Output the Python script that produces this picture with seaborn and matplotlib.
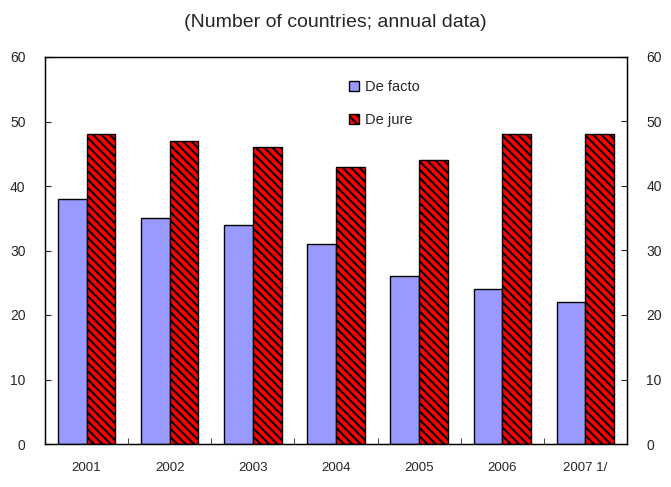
import pandas as pd
import matplotlib.pyplot as plt
import seaborn as sns
from matplotlib.patches import Patch

sns.set_style('white')
plt.rcParams['font.family'] = ['Liberation Sans', 'DejaVu Sans']
plt.rcParams['hatch.linewidth'] = 1.5

# Data
years = ['2001', '2002', '2003', '2004', '2005', '2006', '2007 1/']
de_facto = [38, 35, 34, 31, 26, 24, 22]
de_jure = [48, 47, 46, 43, 44, 48, 48]

df = pd.DataFrame({
    'year': years * 2,
    'count': de_facto + de_jure,
    'kind': ['De facto'] * len(years) + ['De jure'] * len(years),
})

fig = plt.figure(figsize=(6.71, 4.87), dpi=100)
ax = fig.add_axes([45 / 671, 1 - 444 / 487, 582 / 671, 387 / 487])

sns.barplot(data=df, x='year', y='count', hue='kind',
            palette={'De facto': '#9999ff', 'De jure': '#ff0000'},
            saturation=1, width=0.69, edgecolor='black', linewidth=1.0,
            ax=ax, legend=False)

# hatch the de jure bars
n = len(years)
for i, p in enumerate(ax.patches[:2 * n]):
    if i >= n:
        p.set_hatch('\\\\\\\\')

ax.set_xlim(-0.5, n - 0.5)
ax.set_ylim(0, 60)
ax.set_yticks(range(0, 61, 10))
ax.set_xlabel('')
ax.set_ylabel('')
for s in ax.spines.values():
    s.set_color('black')
    s.set_linewidth(1.0)

ax.tick_params(axis='y', direction='in', length=4, labelsize=10, pad=14)
ax.tick_params(axis='x', which='major', length=0, labelsize=9.5, pad=13)
ax.set_xticks([i + 0.5 for i in range(n - 1)], minor=True)
ax.tick_params(axis='x', which='minor', direction='in', length=4, bottom=True)

ax2 = ax.twinx()
ax2.set_ylim(0, 60)
ax2.set_yticks(range(0, 61, 10))
ax2.tick_params(axis='y', direction='in', length=4, labelsize=10, pad=14)
for s in ax2.spines.values():
    s.set_color('black')

handles = [
    Patch(facecolor='#9999ff', edgecolor='black', label='De facto'),
    Patch(facecolor='#ff0000', edgecolor='black', hatch='\\\\\\\\', label='De jure'),
]
ax.legend(handles=handles, loc='upper left', bbox_to_anchor=(0.5, 0.975),
          frameon=False, fontsize=10.5, handlelength=0.7, handleheight=0.7,
          handletextpad=0.4, labelspacing=1.3)

fig.text(0.5, 0.953, '(Number of countries; annual data)', ha='center',
         va='center', fontsize=14)

fig.savefig('out.png', dpi=100)
